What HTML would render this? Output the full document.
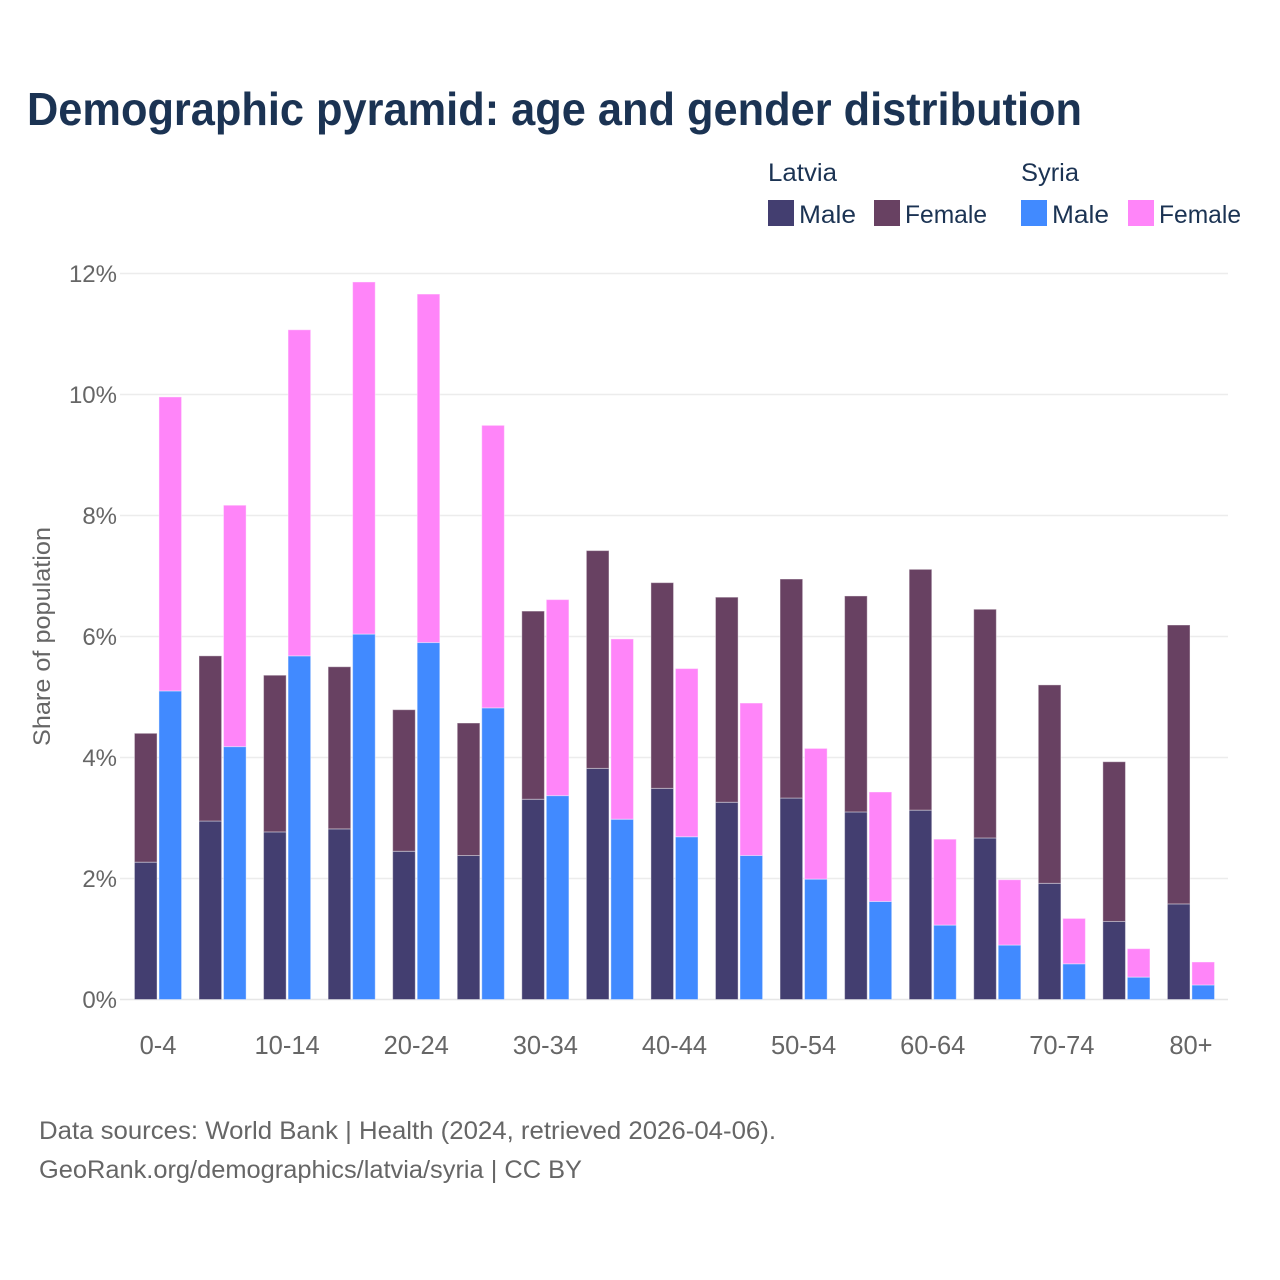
<!DOCTYPE html>
<html lang="en">
<head>
<meta charset="utf-8">
<title>Demographic pyramid</title>
<style>
html,body{margin:0;padding:0;background:#fff;}
svg{display:block;}
text{font-family:"Liberation Sans",sans-serif;}
</style>
</head>
<body>
<svg id="chart" xmlns="http://www.w3.org/2000/svg" width="1280" height="1280" viewBox="0 0 1280 1280">
  <rect width="1280" height="1280" fill="#ffffff"/>
  <text x="27" y="125" font-size="46" font-weight="700" fill="#1b3353" textLength="1055" lengthAdjust="spacingAndGlyphs">Demographic pyramid: age and gender distribution</text>

  <g id="gridlines"></g>
  <g id="y-ticks"></g>
  <g id="bars"></g>
  <g id="x-ticks"></g>

  <text transform="translate(50,746) rotate(-90)" font-size="24" fill="#666666" textLength="219" lengthAdjust="spacingAndGlyphs">Share of population</text>

  <g>
    <text x="768" y="181" font-size="25" fill="#1b3353" textLength="69" lengthAdjust="spacingAndGlyphs">Latvia</text>
    <text x="1021" y="181" font-size="25" fill="#1b3353" textLength="58" lengthAdjust="spacingAndGlyphs">Syria</text>
    <rect x="768" y="200" width="26" height="26" fill="#433e70"/>
    <text x="799" y="223" font-size="25" fill="#1b3353" textLength="57" lengthAdjust="spacingAndGlyphs">Male</text>
    <rect x="874" y="200" width="26" height="26" fill="#684162"/>
    <text x="905" y="223" font-size="25" fill="#1b3353" textLength="82" lengthAdjust="spacingAndGlyphs">Female</text>
    <rect x="1021" y="200" width="26" height="26" fill="#418aff"/>
    <text x="1052" y="223" font-size="25" fill="#1b3353" textLength="57" lengthAdjust="spacingAndGlyphs">Male</text>
    <rect x="1128" y="200" width="26" height="26" fill="#ff85f9"/>
    <text x="1159" y="223" font-size="25" fill="#1b3353" textLength="82" lengthAdjust="spacingAndGlyphs">Female</text>
  </g>

  <text x="39" y="1139" font-size="25" fill="#666666" textLength="737" lengthAdjust="spacingAndGlyphs">Data sources: World Bank | Health (2024, retrieved 2026-04-06).</text>
  <text x="39" y="1178" font-size="25" fill="#666666" textLength="543" lengthAdjust="spacingAndGlyphs">GeoRank.org/demographics/latvia/syria | CC BY</text>
</svg>
<script>
const categories = ['0-4','5-9','10-14','15-19','20-24','25-29','30-34','35-39','40-44','45-49','50-54','55-59','60-64','65-69','70-74','75-79','80+'];
const latviaMale = [2.27,2.95,2.77,2.82,2.45,2.38,3.31,3.82,3.49,3.26,3.33,3.10,3.13,2.67,1.92,1.29,1.58];
const latviaFemale = [2.13,2.73,2.59,2.68,2.34,2.19,3.11,3.60,3.40,3.39,3.62,3.57,3.98,3.78,3.28,2.64,4.61];
const syriaMale = [5.10,4.18,5.68,6.04,5.90,4.82,3.37,2.98,2.69,2.38,1.99,1.62,1.23,0.90,0.59,0.37,0.24];
const syriaFemale = [4.86,3.99,5.39,5.82,5.76,4.67,3.24,2.98,2.78,2.52,2.16,1.81,1.42,1.08,0.75,0.47,0.38];
const yTickValues = [0,2,4,6,8,10,12];

const NS = 'http://www.w3.org/2000/svg';
const plotLeft = 120, plotRight = 1228, yBase = 999.5, pxPerUnit = 60.5;
const firstCenter = 158, step = 64.56, barWidth = 22.6, barGap = 1.9;
const yScale = function (v) { return yBase - v * pxPerUnit; };
const xScale = function (i) { return firstCenter + i * step; };

const gridGroup = document.getElementById('gridlines');
const yTickGroup = document.getElementById('y-ticks');
const xTickGroup = document.getElementById('x-ticks');
const barGroup = document.getElementById('bars');

yTickValues.forEach(function (v) {
  const line = document.createElementNS(NS, 'line');
  
  
  line.setAttribute('x1', plotLeft);
  line.setAttribute('x2', plotRight);
  line.setAttribute('y1', yScale(v));
  line.setAttribute('y2', yScale(v));
  line.setAttribute('stroke', v === 0 ? '#e6e6e6' : '#ececec');
  line.setAttribute('stroke-width', '1.5');
  gridGroup.appendChild(line);

  const label = document.createElementNS(NS, 'text');
  
  
  label.setAttribute('x', 117);
  label.setAttribute('y', yScale(v) + 8.5);
  label.setAttribute('text-anchor', 'end');
  label.setAttribute('font-size', '24');
  label.setAttribute('fill', '#666666');
  label.textContent = v + '%';
  yTickGroup.appendChild(label);
});

categories.forEach(function (c, i) {
  if (i % 2 === 0) {
    const label = document.createElementNS(NS, 'text');
    
    
    label.setAttribute('x', xScale(i));
    label.setAttribute('y', 1054);
    label.setAttribute('text-anchor', 'middle');
    label.setAttribute('font-size', '25.5');
    label.setAttribute('fill', '#666666');
    label.textContent = c;
    xTickGroup.appendChild(label);
  }
});

function addBar(name, x, bottomValue, value, color) {
  const r = document.createElementNS(NS, 'rect');
  
  
  r.setAttribute('x', x);
  r.setAttribute('y', yScale(bottomValue + value));
  r.setAttribute('width', barWidth);
  r.setAttribute('height', value * pxPerUnit);
  r.setAttribute('fill', color);
  r.setAttribute('stroke', '#ffffff');
  r.setAttribute('stroke-opacity', '0.4');
  r.setAttribute('stroke-width', '1');
  barGroup.appendChild(r);
}

categories.forEach(function (c, i) {
  const cx = xScale(i);
  const leftX = cx - barGap / 2 - barWidth;
  const rightX = cx + barGap / 2;
  addBar('bar-latvia-male-' + c, leftX, 0, latviaMale[i], '#433e70');
  addBar('bar-latvia-female-' + c, leftX, latviaMale[i], latviaFemale[i], '#684162');
  addBar('bar-syria-male-' + c, rightX, 0, syriaMale[i], '#418aff');
  addBar('bar-syria-female-' + c, rightX, syriaMale[i], syriaFemale[i], '#ff85f9');
});
</script>
</body>
</html>
